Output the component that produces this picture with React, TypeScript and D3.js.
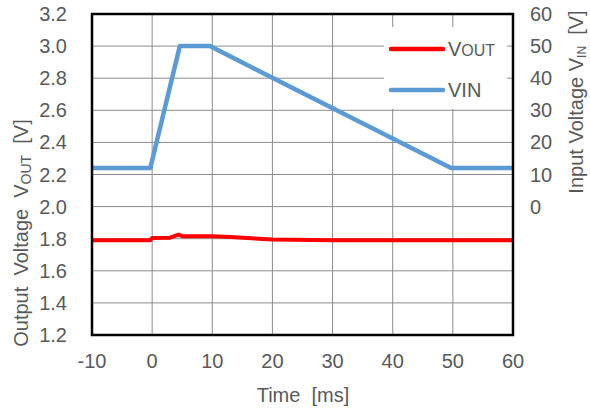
import React from "react";
import * as d3 from "d3";

const xTicks = [-10, 0, 10, 20, 30, 40, 50, 60];
const yLeftTicks = [1.2, 1.4, 1.6, 1.8, 2.0, 2.2, 2.4, 2.6, 2.8, 3.0, 3.2];
const yRightTicks = [0, 10, 20, 30, 40, 50, 60];

const vinTime = [-10, -0.3, 4.6, 9.6, 49.7, 60];
const vinValue = [12, 12, 50, 50, 12, 12];

const voutTime = [-10, -0.3, 0, 3, 4.4, 5, 10, 13, 20, 30, 50, 60];
const voutValue = [1.79, 1.79, 1.805, 1.806, 1.825, 1.816, 1.816, 1.81, 1.795, 1.79, 1.79, 1.79];

const W = 590, H = 410;
const L = 92, R = 513, T = 14, B = 335;
const FONT = "'Liberation Sans', Arial, sans-serif";
const GRAY = "#595959";

export default function App() {
  const x = d3.scaleLinear().domain([-10, 60]).range([L, R]);
  const y = d3.scaleLinear().domain([1.2, 3.2]).range([B, T]);
  const yR = d3.scaleLinear().domain([-40, 60]).range([B, T]);

  const lineVin = d3.line<number>().x((_, i) => x(vinTime[i])).y((d) => yR(d));
  const lineVout = d3.line<number>().x((_, i) => x(voutTime[i])).y((d) => y(d));

  return (
    <svg width={W} height={H} style={{ position: "absolute", left: 0, top: 0, background: "#fff" }} fontFamily={FONT}>
      {/* gridlines */}
      {xTicks.map((t) => (
        <line key={"gx" + t} x1={x(t)} x2={x(t)} y1={T} y2={B} stroke="#8c8c8c" strokeWidth={1} />
      ))}
      {yLeftTicks.map((t) => (
        <line key={"gy" + t} x1={L} x2={R} y1={y(t)} y2={y(t)} stroke="#8c8c8c" strokeWidth={1} />
      ))}
      {/* data */}
      <path d={lineVin(vinValue) || ""} fill="none" stroke="#5B9BD5" strokeWidth={4.5} strokeLinejoin="round" />
      <path d={lineVout(voutValue) || ""} fill="none" stroke="#FF0000" strokeWidth={4} strokeLinejoin="round" />
      {/* legend box */}
      <rect x={384} y={27} width={123} height={82} fill="#fff" />
      <line x1={391} x2={443} y1={49} y2={49} stroke="#FF0000" strokeWidth={4.5} strokeLinecap="round" />
      <text x={448} y={56} fontSize={20} fill={GRAY}>
        V<tspan fontSize={16}>OUT</tspan>
      </text>
      <line x1={391} x2={443} y1={90} y2={90} stroke="#5B9BD5" strokeWidth={4.5} strokeLinecap="round" />
      <text x={448} y={97} fontSize={20} fill={GRAY}>VIN</text>
      {/* border */}
      <rect x={L} y={T} width={R - L} height={B - T} fill="none" stroke="#000" strokeWidth={2.5} />
      {/* tick labels */}
      {xTicks.map((t) => (
        <text key={"tx" + t} x={x(t)} y={368} textAnchor="middle" fontSize={20} fill={GRAY}>
          {t}
        </text>
      ))}
      {yLeftTicks.map((t) => (
        <text key={"tl" + t} x={67} y={y(t) + 7} textAnchor="end" fontSize={20} fill={GRAY}>
          {t.toFixed(1)}
        </text>
      ))}
      {yRightTicks.map((t) => (
        <text key={"tr" + t} x={530} y={yR(t) + 7} textAnchor="start" fontSize={20} fill={GRAY}>
          {t}
        </text>
      ))}
      {/* axis titles */}
      <text x={303} y={402} textAnchor="middle" fontSize={20} fill={GRAY} style={{ whiteSpace: "pre" }}>
        {"Time  [ms]"}
      </text>
      <text transform="translate(28,233) rotate(-90)" textAnchor="middle" fontSize={20} fill={GRAY} style={{ whiteSpace: "pre" }}>
        {"Output  Voltage  V"}<tspan fontSize={14} dy={3}>OUT</tspan><tspan dy={-3}>{"  [V]"}</tspan>
      </text>
      <text transform="translate(583,102) rotate(-90)" textAnchor="middle" fontSize={20} fill={GRAY} style={{ whiteSpace: "pre" }}>
        {"Input Voltage V"}<tspan fontSize={12} dy={3}>IN</tspan><tspan dy={-3}>{"  [V]"}</tspan>
      </text>
    </svg>
  );
}
